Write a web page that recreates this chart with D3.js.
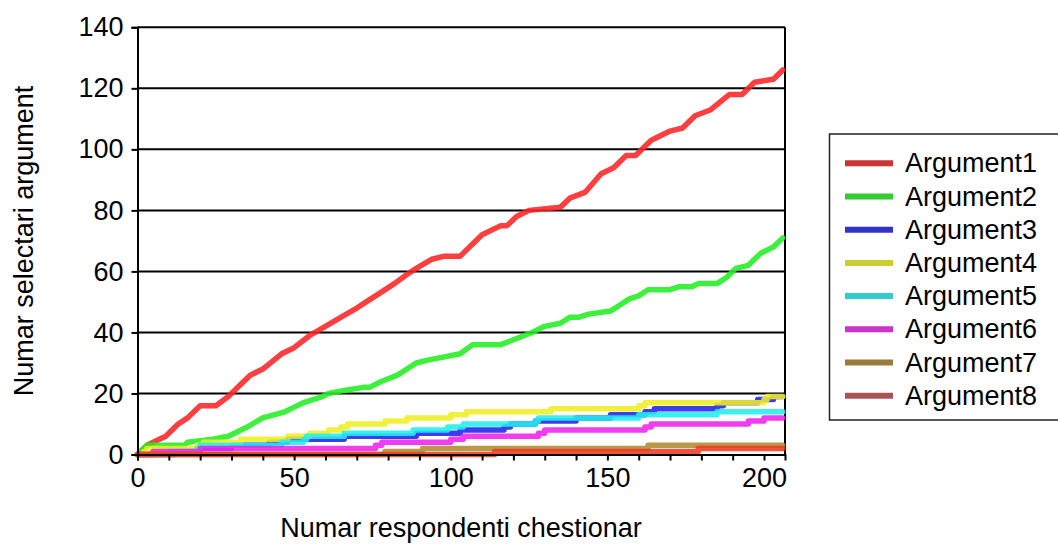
<!DOCTYPE html>
<html>
<head>
<meta charset="utf-8">
<script src="https://cdn.jsdelivr.net/npm/d3@7"></script>
<style>
  html, body { margin: 0; padding: 0; background: #fff; }
  svg { display: block; font-family: "Liberation Sans", Arial, sans-serif; }
</style>
</head>
<body>
<svg id="chart" width="1058" height="544"></svg>
<script>
// ---- data (respondent index, cumulative count) ----
const seriesNames = ["Argument1","Argument2","Argument3","Argument4","Argument5","Argument6","Argument7","Argument8"];

const arg1 = [[0,0],[3,3],[9,6],[13,10],[16,12],[20,16],[25,16],[29,19],[33,23],[36,26],[40,28],[46,33],[50,35],[55,39],[60,42],[65,45],[70,48],[73,50],[76,52],[82,56],[86,59],[89,61],[94,64],[98,65],[103,65],[104,66],[110,72],[116,75],[118,75],[121,78],[125,80],[135,81],[138,84],[143,86],[148,92],[152,94],[156,98],[159,98],[164,103],[170,106],[174,107],[178,111],[183,113],[189,118],[193,118],[197,122],[203,123],[206,126]];
const arg2 = [[0,0],[3,3],[15,3],[16,4],[24,5],[29,6],[35,9],[40,12],[47,14],[53,17],[59,19],[61,20],[66,21],[72,22],[74,22],[78,24],[83,26],[86,28],[89,30],[93,31],[98,32],[103,33],[107,36],[116,36],[121,38],[126,40],[130,42],[135,43],[138,45],[141,45],[144,46],[151,47],[154,49],[157,51],[160,52],[163,54],[170,54],[173,55],[177,55],[179,56],[185,56],[188,58],[191,61],[195,62],[199,66],[203,68],[206,71]];
// step series: points where the count changes
const arg3 = [[0,0],[12,1],[20,2],[30,3],[42,4],[48,5],[66,6],[89,7],[103,8],[117,9],[119,10],[127,11],[140,12],[151,13],[162,14],[165,15],[185,16],[187,17],[198,18],[203,19],[206,19]];
const arg4 = [[0,0],[2,1],[3,2],[19,3],[21,4],[33,5],[48,6],[55,7],[61,8],[65,9],[67,10],[79,11],[86,12],[100,13],[105,14],[132,15],[160,16],[162,17],[200,18],[201,19],[206,19]];
const arg5 = [[0,0],[10,1],[19,2],[20,3],[46,4],[53,5],[54,6],[66,7],[88,8],[99,9],[104,10],[127,11],[128,12],[160,13],[185,14],[206,14]];
const arg6 = [[0,0],[5,1],[20,2],[76,3],[78,4],[100,5],[104,6],[128,7],[130,8],[162,9],[164,10],[195,11],[200,12],[206,12]];
const arg7 = [[0,0],[79,1],[91,2],[163,3],[206,3]];
const arg8 = [[0,0],[114,1],[179,2],[206,2]];

const seriesData = [arg1, arg2, arg3, arg4, arg5, arg6, arg7, arg8];
const stepped = [false, false, true, true, true, true, true, true];

const lineColors   = ["#ff2424","#22ee22","#2222ee","#eeee22","#22eeee","#ee22ee","#b08a30","#ee3a20"];
const legendColors = ["#cc3333","#33cc33","#3333cc","#cccc33","#33cccc","#cc33cc","#9c7a3c","#aa5555"];

const yTicks = [0,20,40,60,80,100,120,140];
const xTicks = [0,10,20,30,40,50,60,70,80,90,100,110,120,130,140,150,160,170,180,190,200];
const xLabelValues = [0,50,100,150,200];

const xTitle = "Numar respondenti chestionar";
const yTitle = "Numar selectari argument";

// ---- layout ----
const svg = d3.select("#chart");
const plot = { left: 137.5, right: 785, top: 27.3, bottom: 454.5 };
const x = d3.scaleLinear().domain([0, 206.7]).range([plot.left, plot.right]);
const y = d3.scaleLinear().domain([0, 140]).range([plot.bottom, plot.top]);
const fontSize = 27;

// gridlines
svg.append("g")
  .selectAll("line").data(yTicks.filter(d => d > 0)).join("line")
  .attr("x1", plot.left).attr("x2", plot.right)
  .attr("y1", d => y(d)).attr("y2", d => y(d))
  .attr("stroke", "#000").attr("stroke-width", 2);

// right border
svg.append("line")
  .attr("x1", plot.right).attr("x2", plot.right)
  .attr("y1", plot.top).attr("y2", plot.bottom)
  .attr("stroke", "#000").attr("stroke-width", 2);

// lines
const linesG = svg.append("g");
seriesData.forEach((data, i) => {
  const gen = d3.line()
    .x(d => x(d[0])).y(d => y(d[1]))
    .curve(stepped[i] ? d3.curveStepAfter : d3.curveLinear);
  linesG.append("path")
    .datum(data)
    .attr("d", gen)
    .attr("fill", "none")
    .attr("stroke", lineColors[i])
    .attr("stroke-width", 5.5)
    .attr("stroke-opacity", 0.88)
    .attr("stroke-linejoin", "round")
    .attr("stroke-linecap", "round");
});

// axes
const yAxis = d3.axisLeft(y).tickValues(yTicks).tickSize(6).tickPadding(8);
const gy = svg.append("g").attr("transform", `translate(${plot.left},0)`).call(yAxis);
const xAxis = d3.axisBottom(x).tickValues(xTicks).tickSize(6).tickPadding(7)
  .tickFormat(d => xLabelValues.includes(d) ? d : "");
const gx = svg.append("g").attr("transform", `translate(0,${plot.bottom})`).call(xAxis);

[gx, gy].forEach(g => {
  g.select(".domain").attr("stroke", "#000").attr("stroke-width", 2);
  g.selectAll(".tick line").attr("stroke", "#000").attr("stroke-width", 2);
  g.selectAll(".tick text")
    .attr("fill", "#000")
    .style("font-size", fontSize + "px")
    .style("font-family", "'Liberation Sans', Arial, sans-serif");
});

// titles
svg.append("text")
  .attr("x", 461).attr("y", 537)
  .attr("text-anchor", "middle")
  .style("font-size", fontSize + "px")
  .text(xTitle);

svg.append("text")
  .attr("transform", "translate(33,241) rotate(-90)")
  .attr("text-anchor", "middle")
  .style("font-size", fontSize + "px")
  .text(yTitle);

// legend
const legend = svg.append("g");
legend.append("rect")
  .attr("x", 829.5).attr("y", 134)
  .attr("width", 260).attr("height", 286)
  .attr("fill", "#fff").attr("stroke", "#222").attr("stroke-width", 1.5);

const legendY = d3.scalePoint().domain(seriesNames).range([163.3, 395.7]);
const items = legend.selectAll("g.item").data(seriesNames).join("g").attr("class", "item");
items.append("line")
  .attr("x1", 845).attr("x2", 893)
  .attr("y1", d => legendY(d)).attr("y2", d => legendY(d))
  .attr("stroke", (d, i) => legendColors[i])
  .attr("stroke-width", 6);
items.append("text")
  .attr("x", 905).attr("y", d => legendY(d) + 9)
  .style("font-size", fontSize + "px")
  .text(d => d);
</script>
</body>
</html>
